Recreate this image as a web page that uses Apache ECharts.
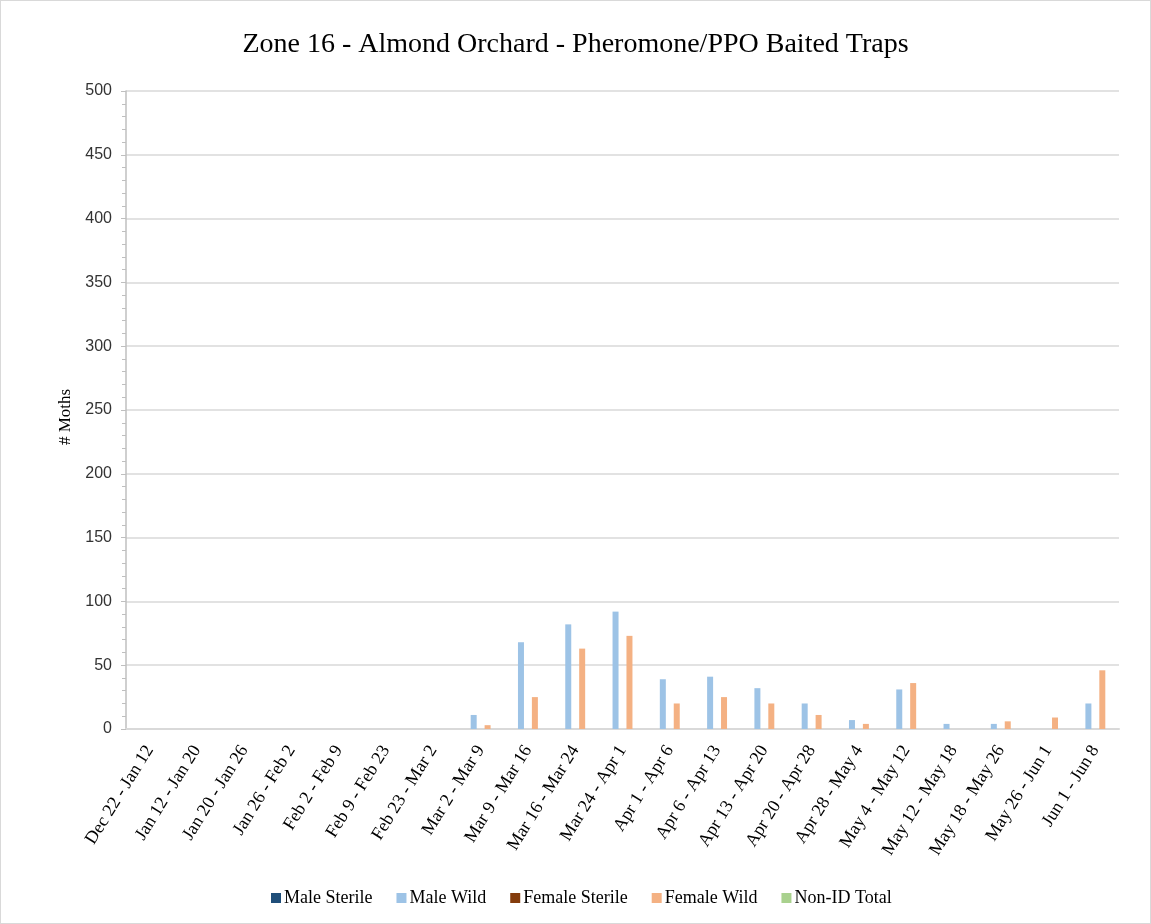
<!DOCTYPE html>
<html>
<head>
<meta charset="utf-8">
<script src="https://cdn.jsdelivr.net/npm/echarts@6/dist/echarts.min.js"></script>
<style>
  html, body { margin: 0; padding: 0; background: #fff; }
  #chart { width: 1149px; height: 922px; border: 1px solid #d9d9d9; }
</style>
</head>
<body>
<div id="chart"></div>
<script>
// trap weeks
const weeks = [
  'Dec 22 - Jan 12', 'Jan 12 - Jan 20', 'Jan 20 - Jan 26', 'Jan 26 - Feb 2',
  'Feb 2 - Feb 9', 'Feb 9 - Feb 23', 'Feb 23 - Mar 2', 'Mar 2 - Mar 9',
  'Mar 9 - Mar 16', 'Mar 16 - Mar 24', 'Mar 24 - Apr 1', 'Apr 1 - Apr 6',
  'Apr 6 - Apr 13', 'Apr 13 - Apr 20', 'Apr 20 - Apr 28', 'Apr 28 - May 4',
  'May 4 - May 12', 'May 12 - May 18', 'May 18 - May 26', 'May 26 - Jun 1',
  'Jun 1 - Jun 8'
];

// moth counts per week
const maleSterile   = [0, 0, 0, 0, 0, 0, 0, 0, 0, 0, 0, 0, 0, 0, 0, 0, 0, 0, 0, 0, 0];
const maleWild      = [0, 0, 0, 0, 0, 0, 0, 11, 68, 82, 92, 39, 41, 32, 20, 7, 31, 4, 4, 0, 20];
const femaleSterile = [0, 0, 0, 0, 0, 0, 0, 0, 0, 0, 0, 0, 0, 0, 0, 0, 0, 0, 0, 0, 0];
const femaleWild    = [0, 0, 0, 0, 0, 0, 0, 3, 25, 63, 73, 20, 25, 20, 11, 4, 36, 0, 6, 9, 46];
const nonIdTotal    = [0, 0, 0, 0, 0, 0, 0, 0, 0, 0, 0, 0, 0, 0, 0, 0, 0, 0, 0, 0, 0];

const yTicks = { min: 0, max: 500, interval: 50 };

const serif = '"Liberation Serif", "DejaVu Serif", serif';
const sans = '"Liberation Sans", Arial, sans-serif';

const chart = echarts.init(document.getElementById('chart'));

const makeSeries = (name, data, color) => ({
  name: name,
  type: 'bar',
  data: data,
  barWidth: 6,
  barGap: '16%',
  itemStyle: { color: color },
  emphasis: { disabled: true }
});

const option = {
  animation: false,
  title: {
    text: 'Zone 16 - Almond Orchard - Pheromone/PPO Baited Traps',
    left: 'center',
    top: 25,
    textStyle: { fontFamily: serif, fontSize: 28, fontWeight: 'normal', color: '#000' }
  },
  legend: {
    bottom: 11,
    left: 265,
    itemWidth: 10,
    itemHeight: 10,
    itemGap: 24,
    icon: 'rect',
    textStyle: { fontFamily: serif, fontSize: 18, color: '#000', padding: [0, 0, 0, -2] },
    data: ['Male Sterile', 'Male Wild', 'Female Sterile', 'Female Wild', 'Non-ID Total']
  },
  grid: { left: 125, right: 31, top: 90, bottom: 194 },
  xAxis: {
    type: 'category',
    data: weeks,
    axisLine: { lineStyle: { color: '#d9d9d9', width: 2 } },
    axisTick: { show: false },
    axisLabel: {
      interval: 0,
      rotate: 58,
      margin: 18,
      fontFamily: serif,
      fontSize: 18,
      color: '#000'
    }
  },
  yAxis: {
    type: 'value',
    min: yTicks.min,
    max: yTicks.max,
    interval: yTicks.interval,
    name: '# Moths',
    nameLocation: 'middle',
    nameGap: 52,
    nameTextStyle: { fontFamily: serif, fontSize: 17, color: '#000', padding: [0, 14, 0, 0] },
    axisLine: { show: true, lineStyle: { color: '#bfbfbf', width: 1.5 } },
    axisTick: { show: true, length: 5, lineStyle: { color: '#bfbfbf' } },
    minorTick: { show: true, splitNumber: 5, length: 4, lineStyle: { color: '#bfbfbf' } },
    axisLabel: { fontFamily: sans, fontSize: 16, color: '#333', margin: 14 },
    splitLine: { lineStyle: { color: '#d9d9d9', width: 1.5 } }
  },
  series: [
    makeSeries('Male Sterile', maleSterile, '#1F4E79'),
    makeSeries('Male Wild', maleWild, '#9DC3E6'),
    makeSeries('Female Sterile', femaleSterile, '#843C0C'),
    makeSeries('Female Wild', femaleWild, '#F4B183'),
    makeSeries('Non-ID Total', nonIdTotal, '#A9D18E')
  ]
};

chart.setOption(option);
</script>
</body>
</html>
